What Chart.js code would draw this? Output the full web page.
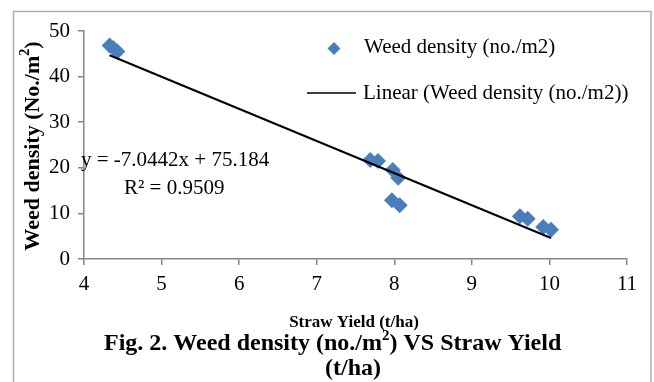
<!DOCTYPE html>
<html>
<head>
<meta charset="utf-8">
<script src="https://cdn.jsdelivr.net/npm/chart.js@4/dist/chart.umd.min.js"></script>
<style>
  html, body { margin: 0; padding: 0; background: #fff; }
  #wrap { width: 654px; height: 382px; position: relative; }
</style>
</head>
<body>
<div id="wrap"><canvas id="myChart" width="654" height="382"></canvas></div>
<script>
// straw yield (t/ha) and weed density (no./m2)
const strawYield = [4.33, 4.38, 4.43, 7.69, 7.79, 7.98, 8.05, 7.97, 8.07, 9.62, 9.72, 9.92, 10.02];
const weedDensity = [46.8, 46.2, 45.5, 21.7, 21.5, 19.5, 17.8, 12.9, 11.8, 9.4, 8.8, 7.0, 6.4];
const xTicks = [4, 5, 6, 7, 8, 9, 10, 11];
const yTicks = [0, 10, 20, 30, 40, 50];
const slope = -7.0442;
const intercept = 75.184;
const rSquared = "0.9509";

const serif = "'Liberation Serif', 'Times New Roman', serif";
const blue = "#4a7ebb";
const axisGray = "#868686";

const points = strawYield.map((x, i) => ({ x: x, y: weedDensity[i] }));
const xMin = Math.min(...strawYield);
const xMax = Math.max(...strawYield);
const trend = [xMin, xMax].map((x) => ({ x: x, y: slope * x + intercept }));

// text with a superscript "2" in the middle
function supText(ctx, before, after, x, y, size, supSize, align) {
    ctx.font = "bold " + size + "px " + serif;
    const w1 = ctx.measureText(before).width;
    const w2 = ctx.measureText(after).width;
    ctx.font = "bold " + supSize + "px " + serif;
    const ws = ctx.measureText("2").width;
    const total = w1 + ws + w2;
    let x0 = align === "center" ? x - total / 2 : x;
    ctx.textAlign = "left";
    ctx.font = "bold " + size + "px " + serif;
    ctx.fillText(before, x0, y);
    ctx.font = "bold " + supSize + "px " + serif;
    ctx.fillText("2", x0 + w1, y - size * 0.33);
    ctx.font = "bold " + size + "px " + serif;
    ctx.fillText(after, x0 + w1 + ws, y);
}

const decorations = {
    id: "decorations",
    afterDraw(chart) {
        const ctx = chart.ctx;
        ctx.save();

        // outer frame (no bottom edge)
        ctx.strokeStyle = "#b0b0b0";
        ctx.lineWidth = 1.5;
        ctx.beginPath();
        ctx.moveTo(13.5, 382);
        ctx.lineTo(13.5, 11.5);
        ctx.lineTo(651, 11.5);
        ctx.lineTo(651, 382);
        ctx.stroke();

        ctx.fillStyle = "#000";
        ctx.textBaseline = "middle";

        // legend
        ctx.fillStyle = blue;
        ctx.beginPath();
        ctx.moveTo(334, 42);
        ctx.lineTo(340.5, 48.5);
        ctx.lineTo(334, 55);
        ctx.lineTo(327.5, 48.5);
        ctx.closePath();
        ctx.fill();
        ctx.fillStyle = "#000";
        ctx.font = "21px " + serif;
        ctx.textAlign = "left";
        ctx.fillText("Weed density (no./m2)", 364, 47);
        ctx.strokeStyle = "#000";
        ctx.lineWidth = 1.5;
        ctx.beginPath();
        ctx.moveTo(307, 93);
        ctx.lineTo(356, 93);
        ctx.stroke();
        ctx.fillText("Linear (Weed density (no./m2))", 363, 93);

        // trendline label
        ctx.fillText("y = -7.0442x + 75.184", 81, 160);
        ctx.fillText("R\u00b2 = " + rSquared, 124, 188);

        // y axis title
        ctx.save();
        ctx.translate(33, 146);
        ctx.rotate(-Math.PI / 2);
        supText(ctx, "Weed density (No./m", ")", 0, 0, 22, 14, "center");
        ctx.restore();

        // x axis title
        ctx.textAlign = "center";
        ctx.font = "bold 17px " + serif;
        ctx.fillText("Straw Yield (t/ha)", 354, 323);

        // caption
        supText(ctx, "Fig. 2. Weed density (no./m", ") VS Straw Yield", 104, 344, 24, 15, "left");
        ctx.textAlign = "center";
        ctx.font = "bold 24px " + serif;
        ctx.fillText("(t/ha)", 353, 369);

        ctx.restore();
    },
};

new Chart(document.getElementById("myChart"), {
    type: "scatter",
    data: {
        datasets: [
            {
                label: "Weed density (no./m2)",
                data: points,
                pointStyle: "rectRot",
                pointRadius: 8,
                backgroundColor: blue,
                borderColor: blue,
                borderWidth: 0,
                order: 2,
            },
            {
                label: "Linear (Weed density (no./m2))",
                type: "line",
                data: trend,
                borderColor: "#000",
                borderWidth: 2,
                pointRadius: 0,
                fill: false,
                order: 1,
            },
        ],
    },
    options: {
        responsive: false,
        animation: false,
        events: [],
        layout: { padding: { left: 0, top: 31, right: 27, bottom: 0 } },
        plugins: {
            legend: { display: false },
            tooltip: { enabled: false },
        },
        scales: {
            x: {
                type: "linear",
                min: 4,
                max: 11,
                afterFit(scale) { scale.height = 123; },
                afterBuildTicks(scale) { scale.ticks = xTicks.map((v) => ({ value: v })); },
                border: { color: axisGray, width: 1.5 },
                grid: { drawOnChartArea: false, color: axisGray, tickLength: 6, lineWidth: 1.5 },
                ticks: { color: "#000", font: { family: serif, size: 21 }, padding: 7 },
            },
            y: {
                min: 0,
                max: 50,
                afterFit(scale) { scale.width = 84; },
                afterBuildTicks(scale) { scale.ticks = yTicks.map((v) => ({ value: v })); },
                border: { color: axisGray, width: 1.5 },
                grid: { drawOnChartArea: false, color: axisGray, tickLength: 6, lineWidth: 1.5 },
                ticks: { color: "#000", font: { family: serif, size: 21 }, padding: 8 },
            },
        },
    },
    plugins: [decorations],
});
</script>
</body>
</html>
